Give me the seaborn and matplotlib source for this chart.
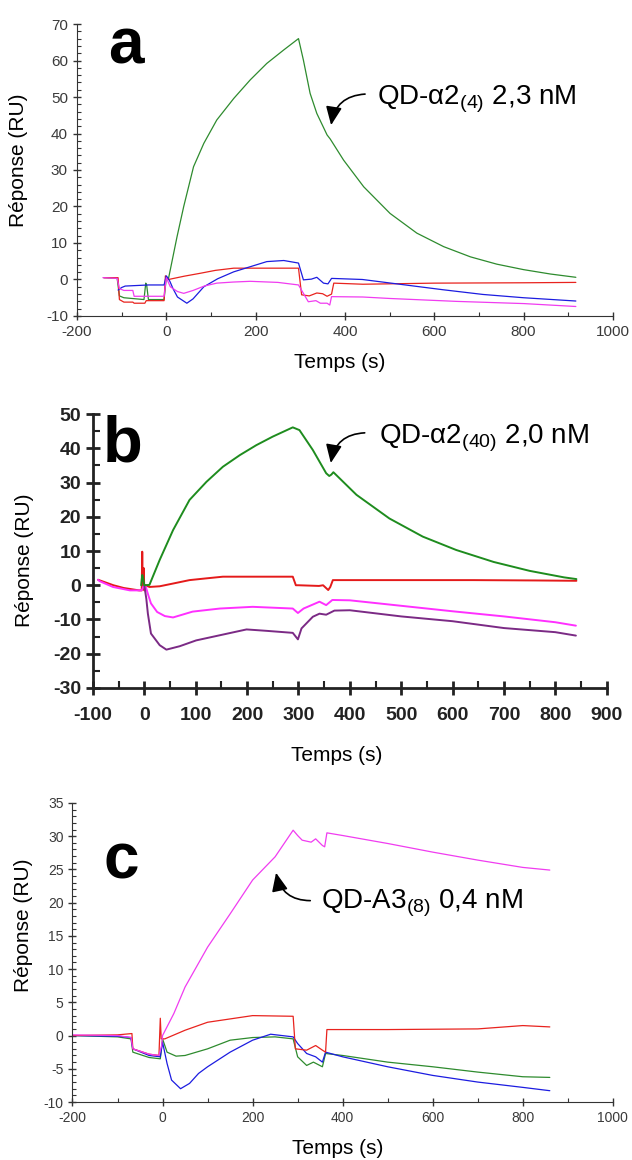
import numpy as np
import pandas as pd
import matplotlib
matplotlib.use("Agg")
import matplotlib.pyplot as plt
from matplotlib.ticker import MultipleLocator
import seaborn as sns

# --- panel a : QD-a2(4) 2,3 nM ---
a_green_t = [-140, -110, -105, -95, -50, -46, -44, -40, -5, 0, 5, 24, 39, 61, 84, 113, 151, 188, 225,
             263, 296, 307, 322, 337, 360, 367, 397, 442, 501, 561, 621, 681, 740, 800, 860, 917]
a_green_v = [0.5, 0.3, -4.5, -5.0, -5.5, -1.0, -1.5, -5.5, -5.5, 0.5, 0.3, 11.7, 20.0, 30.9, 37.3, 43.7,
             49.6, 54.7, 59.2, 62.9, 66.0, 60.1, 51.0, 45.5, 39.6, 38.5, 32.7, 25.4, 18.1, 12.7, 9.0,
             6.2, 4.2, 2.7, 1.5, 0.6]
a_red_t = [-140, -108, -105, -95, -75, -72, -48, -45, -5, -2, 0, 5, 40, 76, 110, 151, 200, 250, 296,
           303, 320, 337, 350, 360, 370, 375, 440, 600, 800, 917]
a_red_v = [0.5, 0.5, -5.5, -6.2, -6.2, -6.5, -6.5, -5.8, -5.8, 1.0, 0.5, 0.0, 0.9, 1.7, 2.5, 3.1, 3.1,
           3.1, 3.1, -4.2, -4.5, -3.7, -3.9, -4.6, -4.0, -1.0, -1.3, -1.0, -0.9, -0.8]
a_blue_t = [-108, -100, -92, -40, -5, 0, 3, 8, 15, 25, 46, 60, 84, 115, 151, 188, 225, 263, 296, 307,
            325, 337, 352, 362, 370, 439, 529, 619, 709, 800, 917]
a_blue_v = [-2.9, -2.2, -1.8, -1.5, -1.5, 1.0, 0.5, -0.5, -2.5, -4.8, -6.5, -5.3, -2.0, 0.2, 2.1, 3.5,
            4.9, 5.2, 4.5, -0.1, 0.1, 0.6, -1.0, -1.2, 0.3, 0.0, -1.4, -2.8, -4.1, -5.0, -5.9]
a_mag_t = [-142, -110, -105, -95, -75, -72, -5, 0, 9, 25, 39, 60, 85, 113, 150, 188, 250, 296, 318,
           335, 345, 360, 366, 370, 440, 500, 650, 800, 917]
a_mag_v = [0.5, 0.3, -2.5, -3.0, -3.0, -4.6, -4.6, 0.5, -2.0, -3.3, -3.8, -3.0, -1.8, -1.0, -0.7, -0.5,
           -0.8, -1.5, -6.1, -5.8, -6.5, -6.5, -7.0, -4.7, -4.8, -5.2, -6.0, -6.6, -7.4]

# --- panel b : QD-a2(40) 2,0 nM ---
b_red_t = [-90, -60, -40, -10, -5, -4, -3, -1, 0, 2, 10, 30, 56, 88, 120, 153, 289, 295, 300, 340,
           348, 358, 362, 367, 470, 640, 760, 841]
b_red_v = [1.6, 0.0, -0.8, -1.5, -1.5, 9.8, 0.0, 5.0, -1.5, 0.0, -0.5, -0.3, 0.5, 1.5, 2.0, 2.5, 2.5,
           0.0, 0.0, -0.2, 0.0, -1.4, -0.5, 1.5, 1.5, 1.5, 1.4, 1.3]
b_mag_t = [-90, -87, -61, -28, -5, -2, 0, 3, 8, 13, 25, 40, 56, 94, 147, 211, 289, 299, 310, 341, 354,
           366, 400, 500, 600, 700, 800, 840]
b_mag_v = [1.6, 1.2, -0.5, -1.5, -1.5, -0.5, 0.0, -0.5, -3.0, -5.3, -7.8, -9.0, -9.4, -7.7, -6.8, -6.3,
           -6.8, -8.1, -6.8, -4.8, -5.8, -4.3, -4.4, -6.0, -7.6, -9.1, -10.8, -11.8]
b_purple_t = [0, 4, 7, 13, 30, 43, 69, 101, 147, 199, 237, 289, 299, 306, 328, 341, 354, 370, 400, 500,
              600, 700, 800, 840]
b_purple_v = [0.0, -4.0, -8.3, -14.1, -17.5, -18.8, -17.8, -16.1, -14.6, -12.9, -13.3, -13.9, -15.8,
              -12.6, -9.2, -8.3, -8.6, -7.4, -7.3, -9.1, -10.5, -12.5, -13.7, -14.7]
b_green_t = [-6, -4, -2, 0, 10, 30, 56, 88, 121, 153, 186, 218, 250, 289, 302, 328, 354, 360, 364,
             368, 413, 477, 542, 607, 680, 750, 817, 841]
b_green_v = [0.0, 3.0, 2.0, 0.0, 0.1, 7.4, 16.1, 24.9, 30.2, 34.6, 38.0, 40.9, 43.4, 46.1, 45.3, 39.5,
             32.7, 31.9, 32.3, 33.0, 26.4, 19.5, 14.2, 10.3, 6.8, 4.2, 2.3, 1.8]

# --- panel c : QD-A3(8) 0,4 nM ---
c_green_t = [-200, -100, -70, -66, -30, -5, 0, 10, 30, 50, 100, 150, 200, 250, 290, 300, 320, 335, 355,
             362, 400, 500, 600, 700, 800, 860]
c_green_v = [0.0, -0.2, -0.5, -2.5, -3.3, -3.5, -0.5, -2.5, -3.1, -3.0, -2.0, -0.7, -0.3, -0.2, -0.5,
             -3.2, -4.5, -4.0, -4.7, -2.7, -3.0, -4.0, -4.7, -5.5, -6.2, -6.3]
c_blue_t = [-200, -100, -70, -66, -30, -5, 0, 10, 20, 40, 60, 80, 100, 150, 200, 240, 290, 300, 320,
            340, 355, 362, 400, 500, 600, 700, 800, 860]
c_blue_v = [0.0, -0.1, -0.3, -2.0, -3.0, -3.2, -1.0, -4.2, -6.7, -8.0, -7.2, -5.7, -4.7, -2.5, -0.7,
            0.2, -0.2, -1.2, -2.7, -3.2, -4.0, -2.5, -3.2, -4.7, -6.0, -7.0, -7.8, -8.3]
c_red_t = [-200, -100, -68, -66, -30, -8, -5, -3, 0, 5, 50, 100, 200, 290, 295, 320, 340, 355, 362,
           365, 500, 700, 800, 860]
c_red_v = [0.0, 0.1, 0.3, -2.0, -2.8, -3.0, 2.6, -0.5, -0.5, -0.5, 0.8, 2.0, 3.0, 2.9, -2.0, -2.2,
           -1.5, -2.2, -2.5, 0.9, 0.9, 1.0, 1.5, 1.3]
c_mag_t = [-200, -100, -70, -66, -30, -8, -4, -2, 0, 25, 50, 100, 150, 200, 250, 290, 300, 310, 330,
           340, 355, 360, 365, 400, 500, 600, 700, 800, 860]
c_mag_v = [0.1, 0.0, -0.3, -2.0, -2.8, -3.0, -2.0, -1.5, 0.0, 3.3, 7.3, 13.3, 18.3, 23.4, 26.9, 30.9,
           30.1, 29.4, 29.1, 29.6, 28.6, 28.4, 30.5, 30.1, 28.9, 27.6, 26.4, 25.3, 24.9]

sns.set_style("ticks")
plt.rcParams["font.family"] = ["Liberation Sans", "DejaVu Sans"]
plt.rcParams["mathtext.fontset"] = "custom"
plt.rcParams["mathtext.rm"] = "Liberation Sans"
plt.rcParams["axes.unicode_minus"] = False
plt.rcParams["text.color"] = "black"
plt.rcParams["axes.labelcolor"] = "black"


def long_df(series):
    parts = []
    for name, (t, v) in series.items():
        parts.append(pd.DataFrame({"Temps": t, "Reponse": v, "courbe": name}))
    return pd.concat(parts, ignore_index=True)


def draw(ax, series, palette, lw):
    df = long_df(series)
    sns.lineplot(data=df, x="Temps", y="Reponse", hue="courbe", hue_order=list(series),
                 palette=palette, estimator=None, sort=False, legend=False, lw=lw, ax=ax)
    sns.despine(ax=ax)


arrow = dict(arrowstyle="-|>,head_length=0.8,head_width=0.35", color="black", lw=1.2,
             shrinkA=0, shrinkB=0, mutation_scale=14)

fig = plt.figure(figsize=(6.32, 11.6), dpi=100)

# panel a
ax = fig.add_axes([0.1218, 0.7276, 0.848, 0.2517])
draw(ax, {"vert": (a_green_t, a_green_v), "rouge": (a_red_t, a_red_v),
          "bleu": (a_blue_t, a_blue_v), "magenta": (a_mag_t, a_mag_v)},
     {"vert": "#2e8b2e", "rouge": "#e8231e", "bleu": "#1c1ce0", "magenta": "#f03cf0"}, 0.9)
ax.set_xlim(-200, 1000)
ax.set_ylim(-10, 70)
ax.xaxis.set_major_locator(MultipleLocator(200))
ax.xaxis.set_minor_locator(MultipleLocator(100))
ax.yaxis.set_major_locator(MultipleLocator(10))
ax.yaxis.set_minor_locator(MultipleLocator(2))
ax.tick_params(which="major", direction="inout", length=6, width=1, color="#333",
               labelsize=11, labelcolor="#3a3a3a")
ax.tick_params(which="minor", direction="in", length=3, width=0.8, color="#333")
for lab in ax.get_xticklabels() + ax.get_yticklabels():
    lab.set_family(["Liberation Sans Narrow", "Liberation Sans"])
for s in ax.spines.values():
    s.set_color("#333")
ax.text(0.058, 0.866, "a", transform=ax.transAxes, fontsize=46, fontweight="bold", va="baseline")
ax.text(472, 48.1, "QD-α2$_{\\mathrm{(4)}}$ 2,3 nM", fontsize=20, va="baseline")
ax.annotate("", xy=(369, 42.3), xytext=(445, 50.8),
            arrowprops=dict(arrow, connectionstyle="arc3,rad=0.4"))

# panel b
ax = fig.add_axes([0.147, 0.4069, 0.813, 0.2362])
draw(ax, {"rouge": (b_red_t, b_red_v), "magenta": (b_mag_t, b_mag_v),
          "violet": (b_purple_t, b_purple_v), "vert": (b_green_t, b_green_v)},
     {"vert": "#1e8c1e", "rouge": "#e41a1a", "magenta": "#ff30ff", "violet": "#7b2a85"}, 1.4)
ax.set_xlim(-100, 900)
ax.set_ylim(-30, 50)
ax.xaxis.set_major_locator(MultipleLocator(100))
ax.xaxis.set_minor_locator(MultipleLocator(50))
ax.yaxis.set_major_locator(MultipleLocator(10))
ax.yaxis.set_minor_locator(MultipleLocator(5))
ax.tick_params(which="major", direction="inout", length=10, width=2, color="#222",
               labelsize=14, labelcolor="#222")
ax.tick_params(which="minor", direction="in", length=5, width=1.5, color="#222")
ax.tick_params(axis="x", which="major", pad=9)
for lab in ax.get_xticklabels() + ax.get_yticklabels():
    lab.set_fontweight("bold")
for s in ax.spines.values():
    s.set_color("#222")
    s.set_linewidth(2)
ax.text(0.02, 0.825, "b", transform=ax.transAxes, fontsize=47, fontweight="bold", va="baseline")
ax.text(456, 41.5, "QD-α2$_{\\mathrm{(40)}}$ 2,0 nM", fontsize=20, va="baseline")
ax.annotate("", xy=(363, 35.7), xytext=(429, 44.5),
            arrowprops=dict(arrow, connectionstyle="arc3,rad=0.4"))

# panel c
ax = fig.add_axes([0.1147, 0.05, 0.855, 0.2578])
draw(ax, {"vert": (c_green_t, c_green_v), "bleu": (c_blue_t, c_blue_v),
          "rouge": (c_red_t, c_red_v), "magenta": (c_mag_t, c_mag_v)},
     {"vert": "#2e8b2e", "rouge": "#e8231e", "bleu": "#1c1ce0", "magenta": "#f03cf0"}, 0.9)
ax.set_xlim(-200, 1000)
ax.set_ylim(-10, 35)
ax.xaxis.set_major_locator(MultipleLocator(200))
ax.xaxis.set_minor_locator(MultipleLocator(100))
ax.yaxis.set_major_locator(MultipleLocator(5))
ax.yaxis.set_minor_locator(MultipleLocator(1))
ax.tick_params(which="major", direction="inout", length=6, width=1, color="#333",
               labelsize=10, labelcolor="#3a3a3a")
ax.tick_params(which="minor", direction="in", length=3, width=0.8, color="#333")
for lab in ax.get_xticklabels() + ax.get_yticklabels():
    lab.set_family(["Liberation Sans Narrow", "Liberation Sans"])
for s in ax.spines.values():
    s.set_color("#333")
ax.text(0.058, 0.749, "c", transform=ax.transAxes, fontsize=46, fontweight="bold", va="baseline")
ax.text(351, 19.2, "QD-A3$_{\\mathrm{(8)}}$ 0,4 nM", fontsize=20, va="baseline")
ax.annotate("", xy=(252, 24.5), xytext=(328, 20.3),
            arrowprops=dict(arrow, connectionstyle="arc3,rad=-0.4"))

# axis labels, placed by their centres
label_pos = [((0.49, -0.158), (-0.110, 0.534)),
             ((0.475, -0.245), (-0.134, 0.467)),
             ((0.49, -0.154), (-0.090, 0.592))]
for ax, (xl, yl) in zip(fig.axes, label_pos):
    ax.set_xlabel("Temps (s)", fontsize=15)
    ax.set_ylabel("Réponse (RU)", fontsize=15)
    ax.xaxis.label.set_va("center")
    ax.yaxis.label.set_va("center")
    ax.xaxis.set_label_coords(*xl)
    ax.yaxis.set_label_coords(*yl)

fig.savefig("out.png", dpi=100)
